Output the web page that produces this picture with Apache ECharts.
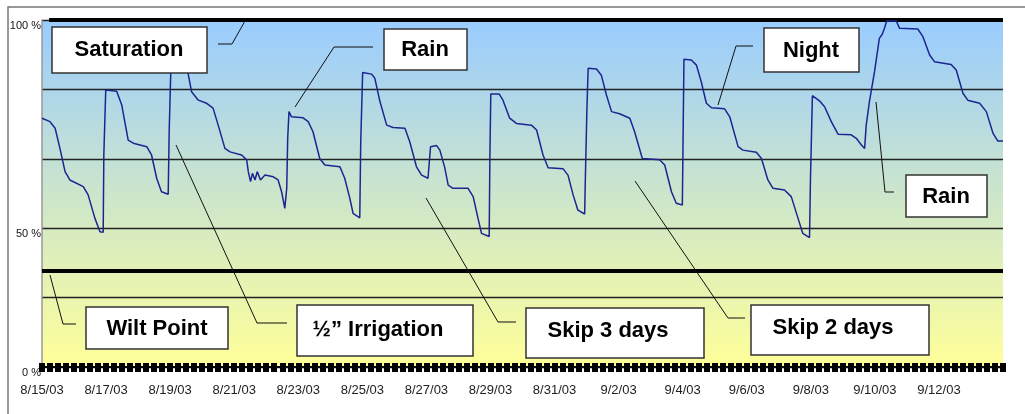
<!DOCTYPE html>
<html>
<head>
<meta charset="utf-8">
<script src="https://cdn.jsdelivr.net/npm/echarts/dist/echarts.min.js"></script>
<style>
html,body{margin:0;padding:0;background:#fff;}
#chart{width:1025px;height:414px;}
</style>
</head>
<body>
<div id="chart"></div>
<script>
// x: days since 8/15/03, y: soil moisture (% of axis)
const dayOffsets = [0,0.25,0.41,0.56,0.72,0.87,1.29,1.44,1.65,1.81,1.91,1.93,1.99,2.33,2.49,2.69,2.85,3.27,3.42,3.58,3.73,3.94,3.97,4.02,4.06,4.31,4.49,4.56,4.67,4.88,5.14,5.34,5.50,5.71,5.87,6.23,6.39,6.44,6.51,6.57,6.65,6.72,6.82,6.96,7.22,7.37,7.48,7.58,7.64,7.67,7.71,7.79,8.15,8.31,8.46,8.67,8.83,9.30,9.45,9.61,9.71,9.92,9.95,10.01,10.29,10.39,10.55,10.76,10.96,11.33,11.48,11.69,11.85,12.05,12.13,12.32,12.42,12.57,12.68,12.83,13.30,13.46,13.61,13.72,13.96,13.98,14.01,14.27,14.39,14.60,14.81,15.28,15.44,15.64,15.80,16.27,16.42,16.58,16.73,16.94,16.96,17.01,17.05,17.31,17.46,17.62,17.78,18.03,18.35,18.50,18.74,19.28,19.44,19.65,19.80,19.99,20.01,20.04,20.27,20.43,20.58,20.74,20.90,21.31,21.47,21.73,21.88,22.30,22.46,22.66,22.82,23.18,23.39,23.60,23.75,23.96,23.99,24.05,24.27,24.43,24.64,24.85,25.26,25.42,25.58,25.68,25.73,25.83,25.99,26.14,26.23,26.30,26.37,26.67,26.77,27.34,27.50,27.71,27.86,28.38,28.54,28.75,28.90,29.27,29.48,29.69,29.84,30.0];
const moisture = [71.7,70.7,68.8,63.0,56.3,53.9,52.0,49.6,42.9,39.0,38.8,61.1,79.8,79.5,75.5,65.4,64.5,63.5,61.1,54.4,50.5,49.8,67.8,85.1,91.9,92.5,88.5,84.6,79.3,76.9,76.0,74.6,69.7,63.0,62.0,61.1,59.7,56.3,53.4,55.8,53.9,56.3,53.9,55.3,54.8,53.9,50.5,45.7,51.5,65.9,73.6,72.1,71.8,70.7,67.8,60.1,58.2,57.7,54.4,48.6,44.3,43.0,64.9,84.9,84.4,83.2,76.5,69.7,69.0,68.8,64.9,57.7,55.3,54.4,63.5,63.8,62.5,57.6,52.4,51.5,51.5,49.1,42.9,38.5,37.6,59.2,78.7,78.7,76.9,71.7,70.2,69.7,68.3,61.1,57.4,57.1,55.3,49.6,45.2,44.1,53.4,74.1,86.1,85.9,84.1,78.4,73.6,73.0,71.7,67.8,60.1,59.7,58.2,50.5,47.2,46.7,63.5,88.7,88.5,87.0,82.2,76.0,74.7,74.4,72.1,63.5,62.5,61.9,60.1,53.9,51.5,51.0,49.1,42.9,38.5,37.3,54.4,78.2,76.7,75.0,70.7,67.1,66.9,65.9,64.0,63.0,69.7,76.5,85.1,94.7,95.9,97.6,99.7,99.7,97.6,97.4,95.2,89.9,88.0,87.2,85.6,78.9,76.9,76.0,73.6,67.3,65.1,65.1];
const dateLabels = ['8/15/03','8/17/03','8/19/03','8/21/03','8/23/03','8/25/03','8/27/03','8/29/03','8/31/03','9/2/03','9/4/03','9/6/03','9/8/03','9/10/03','9/12/03'];
const yTickLabels = {100:'100 %', 40:'50 %', 0:'0 %'};
const saturationLevel = 100;
const wiltPointLevel = 27.7;
const totalDays = 30;

// callout layout (pixels): box [x,y,w,h], text centre, leader polyline
const callouts = [
  {text:'Saturation', box:[52,27,155,46], tc:[129,50], lead:[[218,44],[232,44],[245,21]]},
  {text:'Rain', box:[384,29,83,41], tc:[425,50], lead:[[373,47],[334,47],[295,107]]},
  {text:'Night', box:[764,28,95,44], tc:[811,51], lead:[[753,46],[736,46],[718,105]]},
  {text:'Rain', box:[906,175,81,42], tc:[946,197], lead:[[894,192],[885,192],[876,102]]},
  {text:'Wilt Point', box:[86,307,142,42], tc:[157,329], lead:[[76,324],[63,324],[50,275]]},
  {text:'\u00BD\u201D Irrigation', box:[297,305,176,51], tc:[378,330], lead:[[287,323],[257,323],[176,145]]},
  {text:'Skip 3 days', box:[526,308,178,50], tc:[608,331], lead:[[516,322],[498,322],[426,198]]},
  {text:'Skip 2 days', box:[751,305,178,50], tc:[833,328], lead:[[745,318],[728,318],[635,181]]}
];

const chart = echarts.init(document.getElementById('chart'), null, {renderer:'canvas'});
const seriesData = dayOffsets.map((d,i)=>[d, moisture[i]]);

const graphics = [
  {type:'rect', shape:{x:8,y:7,width:1040,height:430}, style:{fill:'none', stroke:'#777', lineWidth:1.5}, z:1, silent:true}
];
callouts.forEach(c=>{
  graphics.push({type:'polyline', shape:{points:c.lead}, style:{stroke:'#111', lineWidth:1, fill:null}, z:50});
  graphics.push({type:'rect', shape:{x:c.box[0],y:c.box[1],width:c.box[2],height:c.box[3]}, style:{fill:'#fff', stroke:'#333', lineWidth:1.5}, z:51});
  graphics.push({type:'text', x:c.tc[0], y:c.tc[1], style:{text:c.text, fill:'#000', font:'bold 22px "Liberation Sans", Arial, sans-serif', textAlign:'center', textVerticalAlign:'middle'}, z:52});
});

const tickAxisBase = {type:'value', min:0, max:totalDays, interval:2, position:'bottom', offset:0,
  splitLine:{show:false},
  axisLine:{show:true, onZero:false, lineStyle:{color:'#000', width:2}},
  minorSplitLine:{show:false}
};

chart.setOption({
  animation:false,
  backgroundColor:'#fff',
  grid:{left:42, right:22, top:20, bottom:47, show:true, borderWidth:0,
    backgroundColor: new echarts.graphic.LinearGradient(0,0,0,1,[{offset:0,color:'#99CCFF'},{offset:1,color:'#FFFF99'}])},
  xAxis:[
    Object.assign({}, tickAxisBase, {
      axisTick:{show:true, inside:false, length:5, lineStyle:{color:'#000', width:6}},
      minorTick:{show:true, splitNumber:8, length:5, lineStyle:{color:'#000', width:6}},
      axisLabel:{show:true, showMinLabel:true, showMaxLabel:false, margin:17, color:'#222',
        fontFamily:'"Liberation Sans", Arial, sans-serif', fontSize:13,
        formatter:v=>{const i=Math.round(v/2); return (i<dateLabels.length && Math.abs(v-2*i)<1e-6)? dateLabels[i] : '';}}
    }),
    Object.assign({}, tickAxisBase, {
      axisTick:{show:true, inside:true, length:4, lineStyle:{color:'#000', width:6}},
      minorTick:{show:true, splitNumber:8, length:4, lineStyle:{color:'#000', width:6}},
      axisLabel:{show:false}
    })
  ],
  yAxis:{type:'value', min:0, max:100, interval:20,
    axisLine:{show:true, lineStyle:{color:'#999', width:1.5}},
    axisTick:{show:false},
    splitLine:{show:true, lineStyle:{color:'#222', width:1.3}},
    axisLabel:{margin:1, color:'#111', fontFamily:'"Liberation Sans", Arial, sans-serif', fontSize:11,
      verticalAlign:'top',
      formatter:v=> yTickLabels[v] !== undefined ? yTickLabels[v] : ''}
  },
  series:[
    {type:'line', data:[[0.22,saturationLevel],[totalDays,saturationLevel]], symbol:'none', lineStyle:{color:'#000', width:4}, z:3, silent:true},
    {type:'line', data:[[0,wiltPointLevel],[totalDays,wiltPointLevel]], symbol:'none', lineStyle:{color:'#000', width:4}, z:3, silent:true},
    {type:'line', data:seriesData, symbol:'none', lineStyle:{color:'#1c2590', width:1.5}, z:4}
  ],
  graphic:graphics
});
</script>
</body>
</html>
